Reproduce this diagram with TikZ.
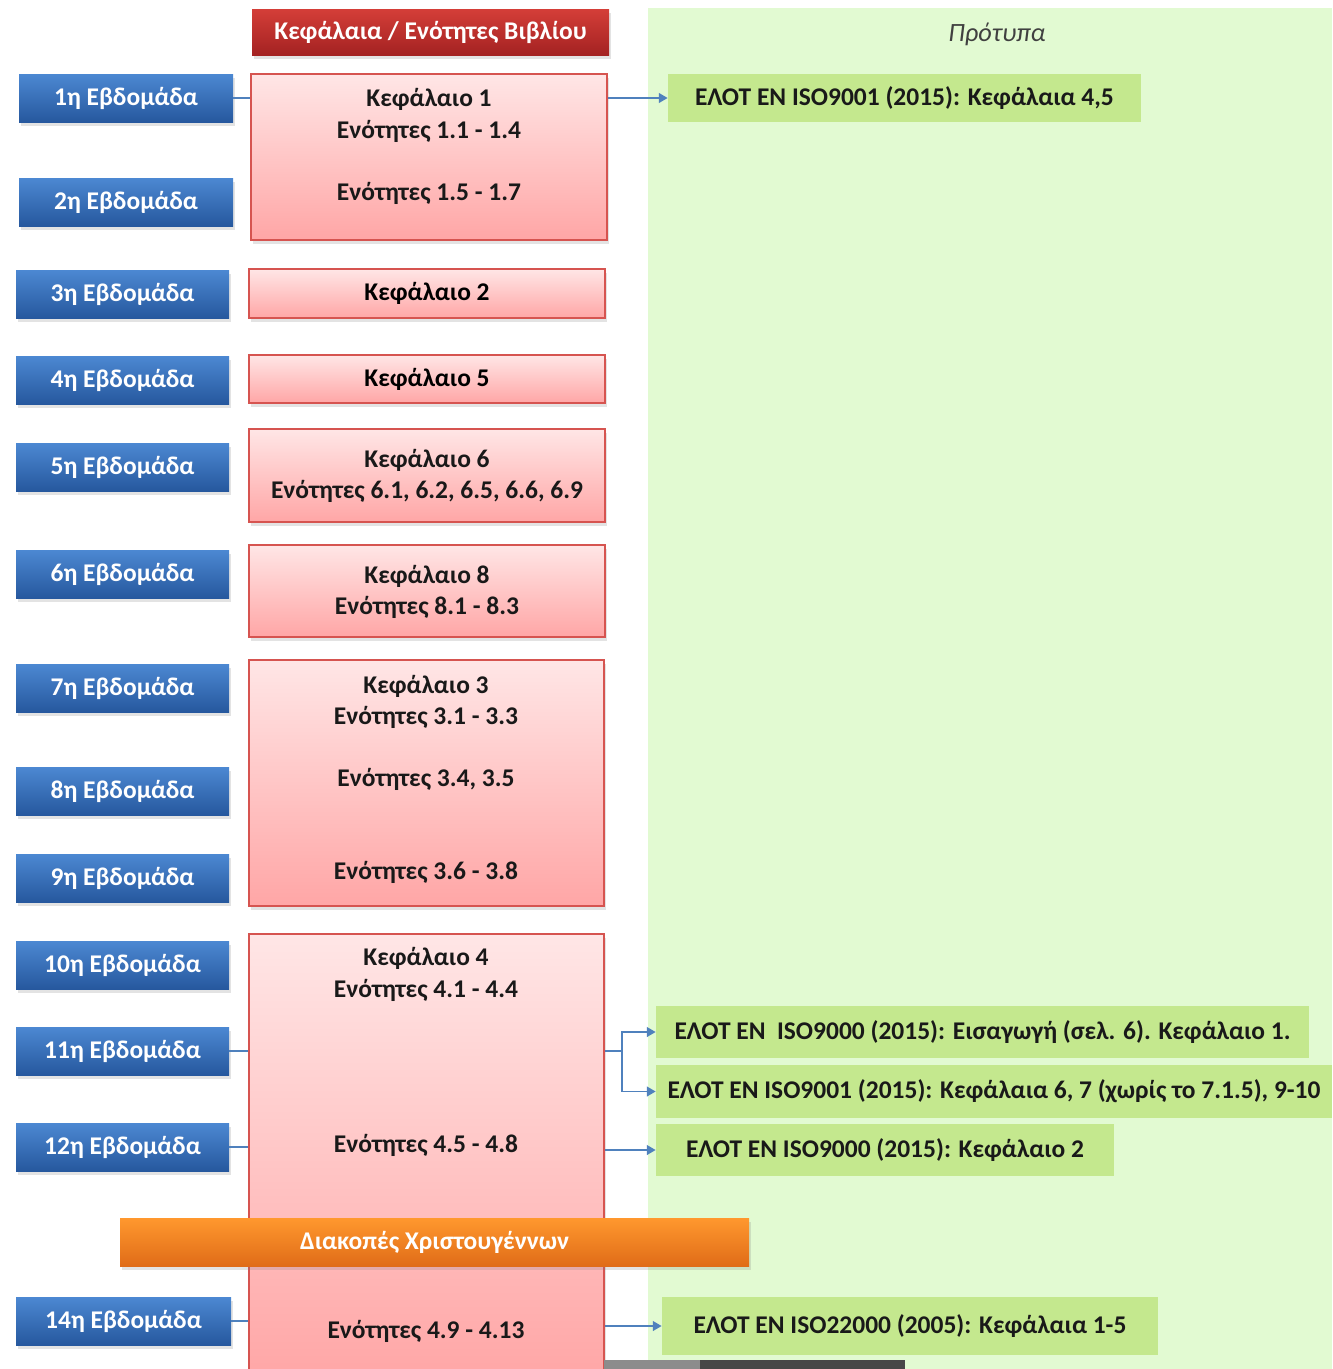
\documentclass[tikz,border=0pt]{standalone}
\usepackage{fontspec}
\setmainfont{Carlito}
\usetikzlibrary{arrows.meta,positioning,shadows}
\definecolor{wktop}{RGB}{76,136,210}
\definecolor{wkbot}{RGB}{38,88,158}
\definecolor{chtop}{RGB}{255,230,230}
\definecolor{chbot}{RGB}{255,166,166}
\definecolor{chline}{RGB}{214,84,80}
\definecolor{hdtop}{RGB}{212,62,56}
\definecolor{hdbot}{RGB}{164,34,34}
\definecolor{ortop}{RGB}{255,152,46}
\definecolor{orbot}{RGB}{224,108,24}
\definecolor{panelgreen}{RGB}{226,250,210}
\definecolor{stdgreen}{RGB}{196,232,142}
\definecolor{linkblue}{RGB}{79,129,189}
\newcommand{\boxfont}{\fontsize{14.5}{17}\selectfont\bfseries}

\begin{document}
\begin{tikzpicture}[x=.02cm,y=-.02cm,
  wh/.style 2 args={minimum width=#1*.02cm,minimum height=#2*.02cm},
  shade/.style={drop shadow={opacity=.22,shadow xshift=.04cm,shadow yshift=-.08cm}},
  week/.style={inner sep=0,top color=wktop,bottom color=wkbot,text=white,font=\boxfont,shade},
  chap/.style={inner sep=0,draw=chline,line width=.9pt,top color=chtop,bottom color=chbot,font=\boxfont,shade},
  chaptext/.style={font=\boxfont,text=black!90},
  std/.style={inner sep=0,fill=stdgreen,font=\boxfont,text=black!90},
  conn/.style={draw=linkblue,line width=1.1pt},
  arr/.style={conn,-{Triangle[length=5pt,width=5.5pt]}}]
\useasboundingbox (0,0) rectangle (1332,1369);
% standards panel
\fill[panelgreen] (648,8) rectangle (1332,1369);
\node[font=\fontsize{15}{18}\selectfont\itshape,text=black!75] (protypa) at (997,34) {Πρότυπα};
\node[inner sep=0,wh={357}{46},top color=hdtop,bottom color=hdbot,text=white,font=\boxfont,shade] (head) at (430.5,32) {Κεφάλαια / Ενότητες Βιβλίου};
% weeks
\foreach \n/\cx/\cy/\w in {1/126/98/214,2/126/202/214,3/122.5/294/213,4/122.5/380/213,5/122.5/467/213,6/122.5/574/213,7/122.5/688/213,8/122.5/791/213,9/122.5/878/213,10/122.5/965/213,11/122.5/1051/213,12/122.5/1147/213,14/123.5/1321/215}{
  \node[week,wh={\w}{48}] (wk\n) at (\cx,\cy) {{\n}η Εβδομάδα};
}
% chapters
\node[chap,wh={356}{166}] (ch1) at (429,157) {};
\node[chaptext] (ch1a) at (429,99) {Κεφάλαιο 1};
\node[chaptext] (ch1b) at (429,131) {Ενότητες 1.1 - 1.4};
\node[chaptext] (ch1c) at (429,193) {Ενότητες 1.5 - 1.7};
\node[chap,wh={356}{49}] (ch2) at (427,293.5) {Κεφάλαιο 2};
\node[chap,wh={356}{48}] (ch5) at (427,379) {Κεφάλαιο 5};
\node[chap,wh={356}{93}] (ch6) at (427,475.5) {};
\node[chaptext] (ch6a) at (427,460) {Κεφάλαιο 6};
\node[chaptext] (ch6b) at (427,491) {Ενότητες 6.1, 6.2, 6.5, 6.6, 6.9};
\node[chap,wh={356}{92}] (ch8) at (427,591) {};
\node[chaptext] (ch8a) at (427,576) {Κεφάλαιο 8};
\node[chaptext] (ch8b) at (427,607) {Ενότητες 8.1 - 8.3};
\node[chap,wh={355}{246}] (ch3) at (426.5,783) {};
\node[chaptext] (ch3a) at (426,686) {Κεφάλαιο 3};
\node[chaptext] (ch3b) at (426,717) {Ενότητες 3.1 - 3.3};
\node[chaptext] (ch3c) at (426,779) {Ενότητες 3.4, 3.5};
\node[chaptext] (ch3d) at (426,872) {Ενότητες 3.6 - 3.8};
\node[chap,wh={355}{446}] (ch4) at (426.5,1157) {};
\node[chaptext] (ch4a) at (426,958) {Κεφάλαιο 4};
\node[chaptext] (ch4b) at (426,990) {Ενότητες 4.1 - 4.4};
\node[chaptext] (ch4c) at (426,1145) {Ενότητες 4.5 - 4.8};
\node[chaptext] (ch4d) at (426,1331) {Ενότητες 4.9 - 4.13};
\node[inner sep=0,wh={629}{48},top color=ortop,bottom color=orbot,text=white,font=\boxfont,shade] (xmas) at (434.5,1242) {Διακοπές Χριστουγέννων};
% standards
\node[std,wh={473}{48}] (s1) at (904.5,98) {ΕΛΟΤ ΕΝ ISO9001 (2015): Κεφάλαια 4,5};
\node[std,wh={653}{52}] (s2) at (982.5,1032) {ΕΛΟΤ ΕΝ\ \ ISO9000 (2015): Εισαγωγή (σελ. 6). Κεφάλαιο 1.};
\node[std,wh={676}{53}] (s3) at (994,1091.5) {ΕΛΟΤ ΕΝ ISO9001 (2015): Κεφάλαια 6, 7 (χωρίς το 7.1.5), 9-10};
\node[std,wh={458}{52}] (s4) at (885,1150) {ΕΛΟΤ ΕΝ ISO9000 (2015): Κεφάλαιο 2};
\node[std,wh={496}{58}] (s5) at (910,1326) {ΕΛΟΤ ΕΝ ISO22000 (2005): Κεφάλαια 1-5};
\fill[black!45] (604,1360) rectangle (700,1369);
\fill[black!72] (700,1360) rectangle (905,1369);
% links
\draw[conn] (wk1.east) -- (wk1.east -| ch1.west);
\draw[conn] (wk11.east) -- (wk11.east -| ch4.west);
\draw[conn] (wk12.east) -- (wk12.east -| ch4.west);
\draw[conn] (wk14.east) -- (wk14.east -| ch4.west);
\draw[arr] (ch1.east |- s1) -- (s1);
\draw[conn] (ch4.east |- wk11) -- ++(17,0) coordinate (fork);
\draw[arr] (fork) |- (s2);
\draw[arr] (fork) |- (s3);
\draw[arr] (ch4.east |- s4) -- (s4);
\draw[arr] (ch4.east |- s5) -- (s5);
\end{tikzpicture}
\end{document}
